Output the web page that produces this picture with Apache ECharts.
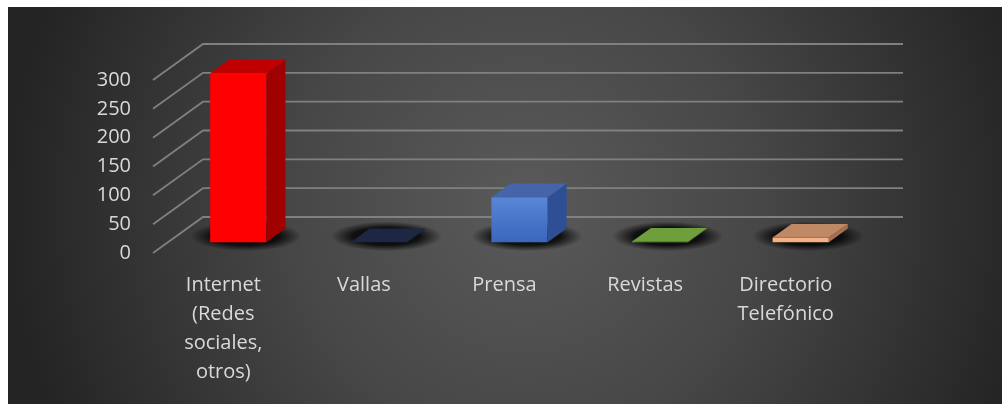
<!DOCTYPE html>
<html>
<head>
<meta charset="utf-8">
<script src="https://cdn.jsdelivr.net/npm/echarts@6/dist/echarts.min.js"></script>
<style>
  html, body { margin: 0; padding: 0; background: #ffffff; }
  #chart { width: 1002px; height: 404px; }
</style>
</head>
<body>
<div id="chart"></div>
<script>
// Medios publicitarios y número de respuestas
const categories = [
  'Internet\n(Redes\nsociales,\notros)',
  'Vallas',
  'Prensa',
  'Revistas',
  'Directorio\nTelefónico'
];
const values = [293, 0, 78, 1, 8];
const gridValues = [0, 50, 100, 150, 200, 250, 300];

// face colours of each box: front, top, side
const palette = [
  { front: ['#ff0000', '#ff0000'], top: '#c00000', side: '#a00000' },
  { front: ['#1f2a48', '#1f2a48'], top: '#1d2743', side: '#18203a' },
  { front: ['#5a86d6', '#3a66bc'], top: '#4565a8', side: '#2e4f94' },
  { front: ['#7cb84a', '#7cb84a'], top: '#6e9f3c', side: '#5a8430' },
  { front: ['#f6b488', '#f4ae80'], top: '#bf8966', side: '#a67152' }
];

// oblique depth of the floor / back wall
const DX = 50, DY = -36;
const FRONT_DEPTH = 0.3;   // where the front face of a box sits
const BOX_DEPTH = 0.38;    // how deep a box is

const chart = echarts.init(document.getElementById('chart'), null, { renderer: 'canvas' });

function renderWall(params, api) {
  const cs = params.coordSys;
  const y = api.coord([0, api.value(1)])[1];
  const x = cs.x;
  return {
    type: 'polyline',
    shape: { points: [[x, y], [x + DX, y + DY], [x + DX + cs.width - 3, y + DY]] },
    style: { stroke: '#808080', lineWidth: 1.8, fill: null },
    silent: true
  };
}

function renderBox(params, api) {
  const i = api.value(0), v = api.value(1);
  const base = api.coord([i, 0]);
  const topPt = api.coord([i, v]);
  const band = api.size([1, 0])[0];
  const w = band * 0.4;
  const cx = base[0] + DX * FRONT_DEPTH;
  const y0 = base[1] + DY * FRONT_DEPTH;
  const y1 = topPt[1] + DY * FRONT_DEPTH;
  const x0 = cx - w / 2, x1 = cx + w / 2;
  const dx = DX * BOX_DEPTH, dy = DY * BOX_DEPTH;
  const c = palette[params.dataIndex];
  const children = [];

  // soft floor shadow: a radial-gradient disc stretched into an ellipse around the base
  const rx = (w + dx) / 2 + 18, ry = -dy / 2 + 8;
  children.push({
    type: 'circle',
    shape: { cx: 0, cy: 0, r: 10 },
    x: x0 + (w + dx) / 2 - 2,
    y: y0 + dy / 2 + 1,
    scaleX: rx / 10,
    scaleY: ry / 10,
    style: {
      fill: new echarts.graphic.RadialGradient(0.5, 0.5, 0.5, [
        { offset: 0, color: 'rgba(0,0,0,0.95)' },
        { offset: 0.6, color: 'rgba(0,0,0,0.8)' },
        { offset: 0.82, color: 'rgba(0,0,0,0.35)' },
        { offset: 1, color: 'rgba(0,0,0,0)' }
      ])
    },
    silent: true
  });
  if (y0 - y1 > 0.3) {
    children.push({
      type: 'rect',
      shape: { x: x0, y: y1, width: w, height: y0 - y1 },
      style: {
        fill: new echarts.graphic.LinearGradient(0, 0, 0, 1, [
          { offset: 0, color: c.front[0] },
          { offset: 1, color: c.front[1] }
        ])
      }
    });
    children.push({
      type: 'polygon',
      shape: { points: [[x1, y0], [x1 + dx, y0 + dy], [x1 + dx, y1 + dy], [x1, y1]] },
      style: { fill: c.side }
    });
  }
  children.push({
    type: 'polygon',
    shape: { points: [[x0, y1], [x1, y1], [x1 + dx, y1 + dy], [x0 + dx, y1 + dy]] },
    style: { fill: c.top }
  });
  return { type: 'group', children: children };
}

const labelFont = '"Open Sans", Lato, sans-serif';

chart.setOption({
  animation: false,
  backgroundColor: '#ffffff',
  graphic: [{
    type: 'rect',
    z: -10,
    shape: { x: 8, y: 7, width: 994, height: 397 },
    style: {
      fill: new echarts.graphic.RadialGradient(0.52, 0.5, 1.3, [
        { offset: 0, color: '#5a5a5a' },
        { offset: 0.45, color: '#474747' },
        { offset: 1, color: '#242424' }
      ])
    },
    silent: true
  }],
  grid: { left: 153, right: 146, top: 80, bottom: 151 },
  xAxis: {
    type: 'category',
    data: categories,
    axisLine: { show: false },
    axisTick: { show: false },
    axisLabel: {
      interval: 0,
      color: '#d9d9d9',
      fontSize: 20,
      fontFamily: labelFont,
      lineHeight: 29,
      margin: 18
    }
  },
  yAxis: {
    type: 'value',
    min: 0,
    max: 300,
    interval: 50,
    axisLine: { show: false },
    axisTick: { show: false },
    splitLine: { show: false },
    axisLabel: { color: '#d9d9d9', fontSize: 20, fontFamily: labelFont, margin: 22 }
  },
  series: [
    {
      type: 'custom',
      z: 1,
      renderItem: renderWall,
      data: gridValues.map(v => [0, v]),
      silent: true
    },
    {
      type: 'custom',
      z: 3,
      renderItem: renderBox,
      data: values.map((v, i) => [i, v])
    }
  ]
});
</script>
</body>
</html>
